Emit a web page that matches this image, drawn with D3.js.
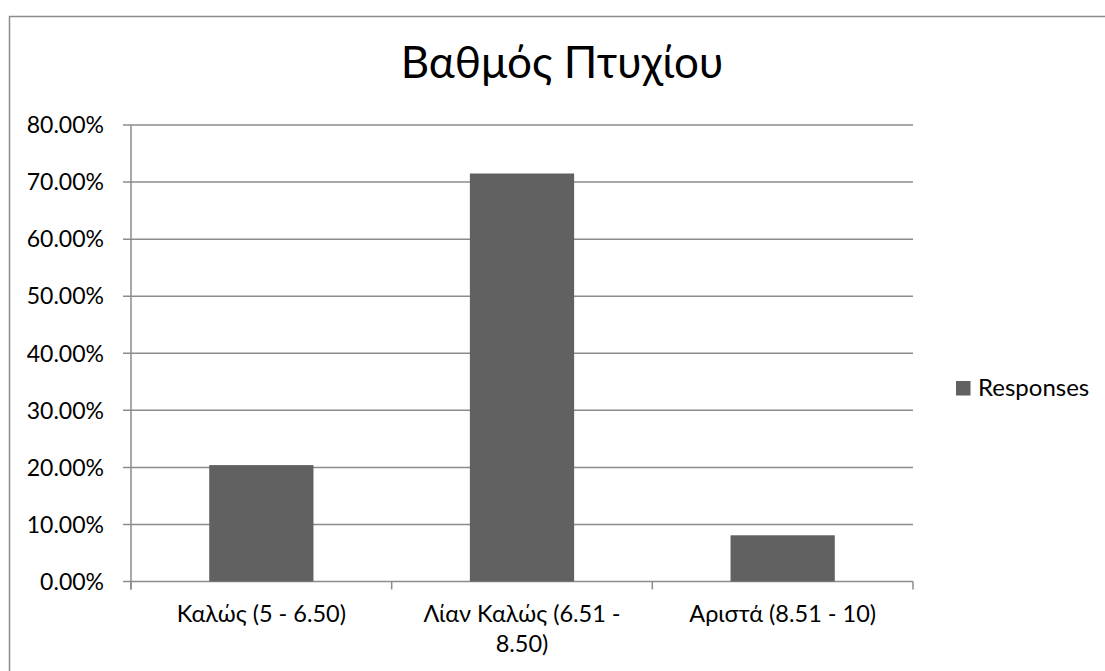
<!DOCTYPE html>
<html><head><meta charset="utf-8">
<script src="https://cdn.jsdelivr.net/npm/d3@7"></script>
<style>body{margin:0;background:#fff}svg{display:block}</style>
</head><body>
<svg id="c" width="1105" height="671"></svg>
<script>
const title = "Βαθμός Πτυχίου";
const categories = ["Καλώς (5 - 6.50)", "Λίαν Καλώς (6.51 - 8.50)", "Αριστά (8.51 - 10)"];
const categoryLines = [["Καλώς (5 - 6.50)"], ["Λίαν Καλώς (6.51 -", "8.50)"], ["Αριστά (8.51 - 10)"]];
const responses = [0.204, 0.715, 0.081];
const yTicks = [0, 0.1, 0.2, 0.3, 0.4, 0.5, 0.6, 0.7, 0.8];
const seriesName = "Responses";

const font = "Lato, 'Open Sans', sans-serif";
const svg = d3.select("#c");
const L = 131, R = 913, T = 125, B = 581.5;

// chart border
svg.append("rect").attr("x", 9.5).attr("y", 16.5).attr("width", 1120).attr("height", 700)
  .attr("fill", "none").attr("stroke", "#8c8c8c").attr("stroke-width", 1.5);

const x = d3.scaleBand().domain(categories).range([L, R]).paddingInner(0.6).paddingOuter(0.3);
const y = d3.scaleLinear().domain([0, 0.8]).range([B, T]);

// gridlines
svg.append("g").selectAll("line").data(yTicks).join("line")
  .attr("x1", L - 8).attr("x2", R).attr("y1", d => y(d)).attr("y2", d => y(d))
  .attr("stroke", "#8c8c8c").attr("stroke-width", 1.5);

// y axis line
svg.append("line").attr("x1", L).attr("x2", L).attr("y1", T).attr("y2", B + 8)
  .attr("stroke", "#8c8c8c").attr("stroke-width", 1.5);

// x tick marks at band boundaries
const step = (R - L) / categories.length;
const bounds = d3.range(categories.length + 1).map(i => L + i * step);
svg.append("g").selectAll("line").data(bounds).join("line")
  .attr("x1", d => d).attr("x2", d => d).attr("y1", B).attr("y2", B + 8)
  .attr("stroke", "#8c8c8c").attr("stroke-width", 1.5);

// y labels
svg.append("g").selectAll("text").data(yTicks).join("text")
  .attr("x", 104).attr("y", d => y(d)).attr("dy", "0.36em").attr("text-anchor", "end")
  .attr("font-family", font).attr("font-size", 23).attr("fill", "#000")
  .text(d => d3.format(".2%")(d));

// bars
svg.append("g").selectAll("rect").data(responses).join("rect")
  .attr("x", (d, i) => x(categories[i])).attr("width", x.bandwidth())
  .attr("y", d => y(d)).attr("height", d => B - y(d))
  .attr("fill", "#616161");

// category labels
const cl = svg.append("g").selectAll("text").data(categories).join("text")
  .attr("x", (d, i) => L + (i + 0.5) * step).attr("y", 622)
  .attr("text-anchor", "middle").attr("font-family", font).attr("font-size", 23.5).attr("fill", "#000");
cl.each(function(d, i) {
  d3.select(this).selectAll("tspan").data(categoryLines[i]).join("tspan")
    .attr("x", L + (i + 0.5) * step).attr("dy", (t, j) => j === 0 ? 0 : 30).text(t => t);
});

// title
svg.append("text").attr("x", 562).attr("y", 78).attr("text-anchor", "middle")
  .attr("font-family", font).attr("font-size", 44).attr("fill", "#000").text(title);

// legend
svg.append("rect").attr("x", 956).attr("y", 381).attr("width", 14.5).attr("height", 14.5).attr("fill", "#616161");
svg.append("text").attr("x", 978).attr("y", 395.5)
  .attr("font-family", font).attr("font-size", 24).attr("fill", "#000").text(seriesName);
</script>
</body></html>
